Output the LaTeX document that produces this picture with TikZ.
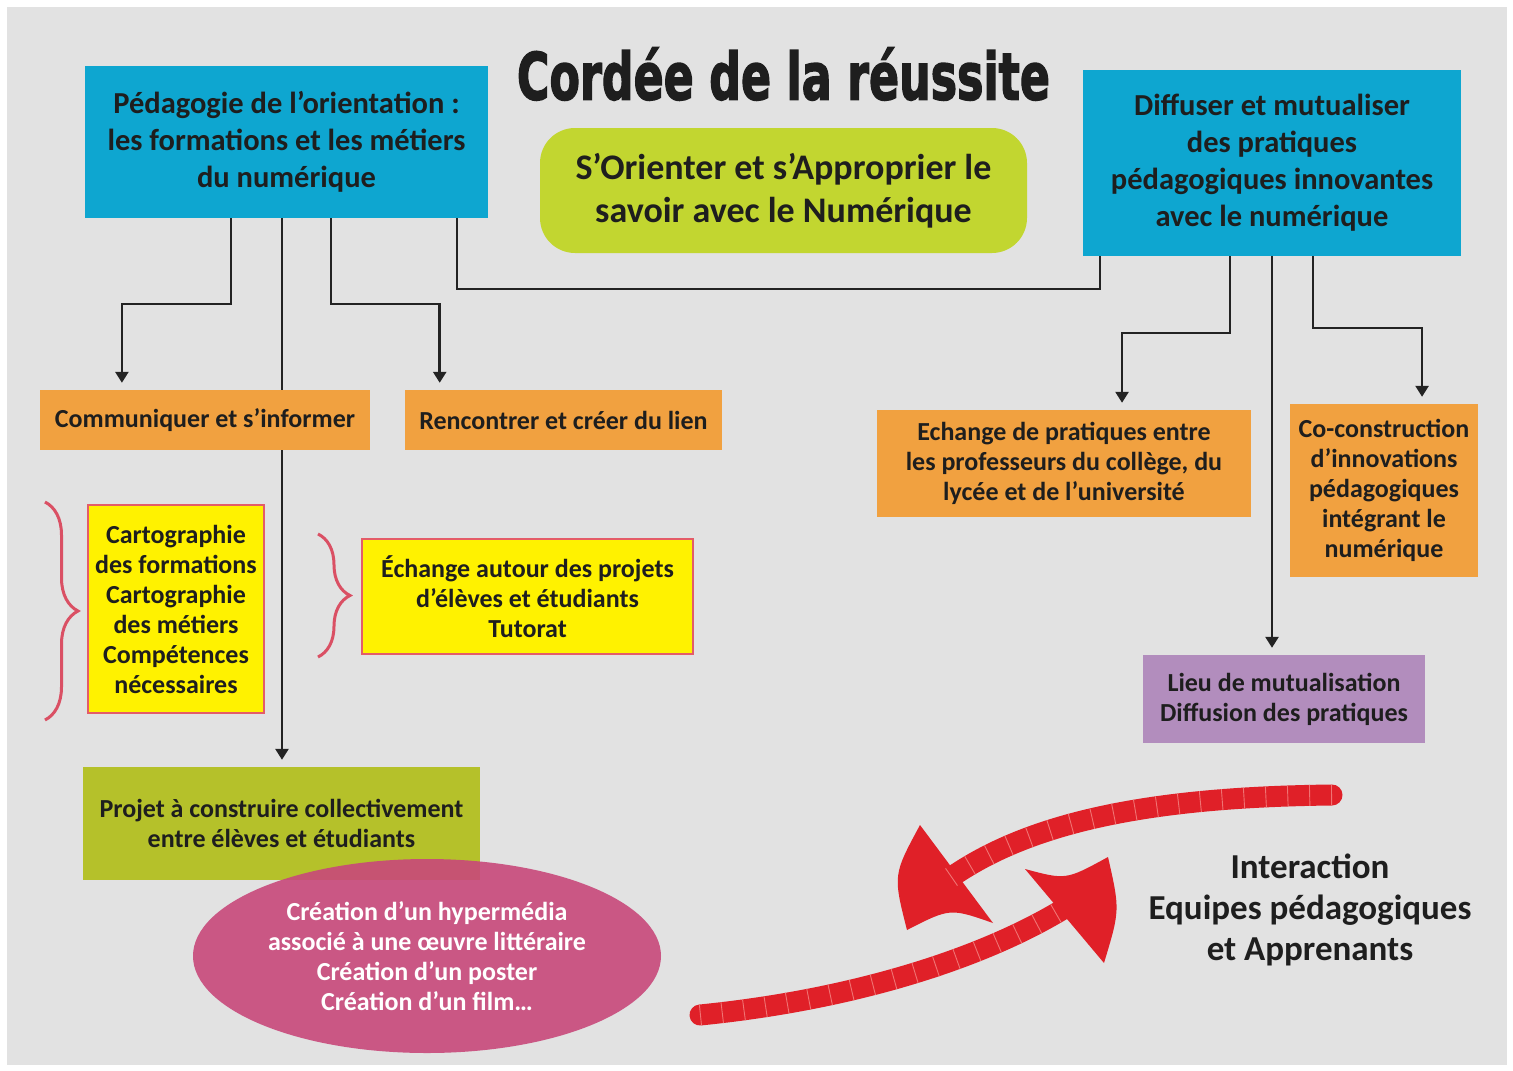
\documentclass[tikz,border=0pt]{standalone}
\usepackage{fontspec}
\setmainfont{Carlito}
\newfontfamily\titlefont{DejaVu Sans}[BoldFeatures={FakeBold=2.5}]
\usetikzlibrary{arrows.meta,calc,decorations.pathreplacing,shapes.geometric}
\pgfdeclarelayer{bg}
\pgfdeclarelayer{edges}
\pgfsetlayers{bg,edges,main}
\definecolor{bggray}{RGB}{226,226,226}
\definecolor{txt}{RGB}{30,30,30}
\definecolor{cblue}{RGB}{14,166,208}
\definecolor{cgreen}{RGB}{194,214,48}
\definecolor{corange}{RGB}{241,161,64}
\definecolor{cyellow}{RGB}{255,242,0}
\definecolor{cyborder}{RGB}{228,92,104}
\definecolor{cpurple}{RGB}{178,141,189}
\definecolor{colive}{RGB}{181,193,42}
\definecolor{cmagenta}{RGB}{200,72,122}
\definecolor{cbrace}{RGB}{218,80,100}
\definecolor{cred}{RGB}{224,32,40}
\definecolor{cstripe}{RGB}{240,115,115}
\definecolor{lineblack}{RGB}{35,35,35}
\tikzset{
  box/.style={draw=none, inner sep=0pt, align=center, text=txt},
  small/.style={font=\bfseries\fontsize{26}{30}\selectfont},
  big/.style={font=\bfseries\fontsize{30.5}{37}\selectfont},
  conn/.style={draw=lineblack, line width=2.6pt},
  arr/.style={conn, -{Triangle[width=13pt,length=11pt]}, shorten >=7pt},
  ybox/.style={box, small, fill=cyellow, draw=cyborder, line width=2.5pt},
  bracestyle/.style={draw=cbrace, line width=3pt, decorate},
  redshaft/.style={draw=cred, line width=21pt, line cap=round},
  stripes/.style={draw=cstripe, line width=21pt, dash pattern=on 0.9pt off 21pt},
}
\begin{document}
\begin{tikzpicture}[x=1pt,y=-1pt]
\useasboundingbox (0,0) rectangle (1513,1071);
\begin{pgfonlayer}{bg}
  \fill[white] (0,0) rectangle (1513,1071);
  \fill[bggray] (7,7) rectangle (1507,1065);
\end{pgfonlayer}

% title
\node[inner sep=0pt, text=txt] (T) at (783.5,74)
  {\resizebox{533pt}{52pt}{\titlefont\bfseries Cordée de la réussite}};

% main boxes
\node[box, big, fill=cblue, minimum width=403pt, minimum height=152pt] (A) at (286.5,142)
  {Pédagogie de l’orientation :\\les formations et les métiers\\du numérique};
\node[box, fill=cgreen, rounded corners=35pt, minimum width=487pt, minimum height=125pt,
      font=\bfseries\fontsize{36}{43}\selectfont] (G) at (783.5,190.5)
  {S’Orienter et s’Approprier le\\savoir avec le Numérique};
\node[box, big, fill=cblue, minimum width=378pt, minimum height=186pt] (B) at (1272,163)
  {Diffuser et mutualiser\\des pratiques\\pédagogiques innovantes\\avec le numérique};

% orange boxes
\node[box, small, fill=corange, minimum width=330pt, minimum height=60pt] (Comm) at (205,420)
  {Communiquer et s’informer};
\node[box, small, fill=corange, minimum width=317pt, minimum height=60pt] (Renc) at (563.5,420)
  {Rencontrer et créer du lien};
\node[box, small, fill=corange, minimum width=374pt, minimum height=107pt] (Ech) at (1064,463.5)
  {Echange de pratiques entre\\les professeurs du collège, du\\lycée et de l’université};
\node[box, small, fill=corange, minimum width=188pt, minimum height=173pt] (Cocon) at (1384,490.5)
  {Co-construction\\d’innovations\\pédagogiques\\intégrant le\\numérique};

% yellow boxes
\node[ybox, minimum width=176pt, minimum height=208pt] (Carto) at (176,609)
  {Cartographie\\des formations\\Cartographie\\des métiers\\Compétences\\nécessaires};
\node[ybox, minimum width=331pt, minimum height=115pt] (EchAut) at (527.5,596.5)
  {Échange autour des projets\\d’élèves et étudiants\\Tutorat};

% purple
\node[box, small, fill=cpurple, minimum width=282pt, minimum height=88pt] (Lieu) at (1284,699)
  {Lieu de mutualisation\\Diffusion des pratiques};

% projet + ellipse
\node[box, small, fill=colive, minimum width=397pt, minimum height=113pt] (Proj) at (281.5,823.5)
  {Projet à construire collectivement\\entre élèves et étudiants};
\node[ellipse, inner sep=0pt, align=center, small, text=white, fill=cmagenta, fill opacity=0.9, text opacity=1,
      minimum width=468pt, minimum height=194pt] (Ell) at (427,956)
  {Création d’un hypermédia\\associé à une œuvre littéraire\\Création d’un poster\\Création d’un film…};

% interaction text
\node[align=center, text=txt, font=\bfseries\fontsize{35}{41}\selectfont] (Inter) at (1310,910)
  {Interaction\\Equipes pédagogiques\\et Apprenants};

% braces
\coordinate (br1a) at (45,502);
\coordinate (br1b) at (45,720);
\coordinate (br2a) at (318,534);
\coordinate (br2b) at (318,657);
\draw[bracestyle, decoration={brace, amplitude=33pt}] (br1a) -- (br1b);
\draw[bracestyle, decoration={brace, amplitude=32pt}] (br2a) -- (br2b);

% connectors
\coordinate (a1) at ($(A.south west)!0.3623!(A.south east)$);
\coordinate (a2) at ($(A.south west)!0.4888!(A.south east)$);
\coordinate (a3) at ($(A.south west)!0.6104!(A.south east)$);
\coordinate (a4) at ($(A.south west)!0.9231!(A.south east)$);
\coordinate (b0) at ($(B.south west)!0.045!(B.south east)$);
\coordinate (b1) at ($(B.south west)!0.3889!(B.south east)$);
\coordinate (b2) at ($(B.south west)!0.5!(B.south east)$);
\coordinate (b3) at ($(B.south west)!0.6085!(B.south east)$);
\coordinate (c1) at ($(Comm.north west)!0.2485!(Comm.north east)$);
\coordinate (c2) at ($(Renc.north west)!0.110!(Renc.north east)$);
\coordinate (c3) at (Proj.north -| a2);
\coordinate (d1) at ($(Ech.north west)!0.655!(Ech.north east)$);
\coordinate (d2) at (Lieu.north -| b2);
\coordinate (d3) at ($(Cocon.north west)!0.702!(Cocon.north east)$);
\coordinate (h304) at (0,304);
\coordinate (h289) at (0,289);
\coordinate (h333) at (0,333);
\coordinate (h328) at (0,328);
\begin{pgfonlayer}{edges}
  \draw[arr] (a1) -- (a1 |- h304) -| (c1);
  \draw[arr] (a2) -- (c3);
  \draw[arr] (a3) -- (a3 |- h304) -| (c2);
  \draw[conn] (a4) -- (a4 |- h289) -| (b0);
  \draw[arr] (b1) -- (b1 |- h333) -| (d1);
  \draw[arr] (b2) -- (d2);
  \draw[arr] (b3) -- (b3 |- h328) -| (d3);
\end{pgfonlayer}

% red exchange arrows
\coordinate (u0) at (1332,795);
\coordinate (u1) at (950,878);
\coordinate (l0) at (700,1015);
\coordinate (l1) at (1065,908);
\fill[cred] (920,825) .. controls (893,875) .. (907,930) .. controls (950,908) .. (993,923) -- cycle;
\fill[cred] (1025,869) .. controls (1066,880) .. (1108,857) .. controls (1120,910) .. (1104,963) -- cycle;
\draw[redshaft] (u0) .. controls (1150,797) and (1030,822) .. (u1);
\draw[stripes] (u0) .. controls (1150,797) and (1030,822) .. (u1);
\draw[redshaft] (l0) .. controls (850,1000) and (980,960) .. (l1);
\draw[stripes] (l0) .. controls (850,1000) and (980,960) .. (l1);
\end{tikzpicture}
\end{document}
